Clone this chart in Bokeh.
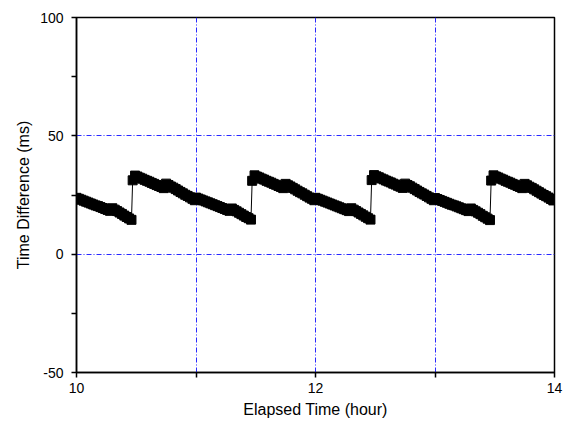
from bokeh.plotting import figure
from bokeh.models import Range1d, FixedTicker
from bokeh.embed import file_html
from bokeh.resources import INLINE

x_hours = [
    10.00, 10.02, 10.04, 10.06, 10.08, 10.10, 10.12, 10.14, 10.16, 10.18, 10.20, 10.22, 10.24, 10.26, 10.28,
    10.30, 10.32, 10.34, 10.36, 10.38, 10.40, 10.42, 10.44, 10.46,
    10.47,
    10.49, 10.51, 10.53, 10.55, 10.57, 10.59, 10.61, 10.63, 10.65, 10.67, 10.69, 10.71, 10.73,
    10.75, 10.77, 10.79, 10.81, 10.83, 10.85, 10.87, 10.89, 10.91, 10.93, 10.95, 10.97, 10.99,
    11.00, 11.02, 11.04, 11.06, 11.08, 11.10, 11.12, 11.14, 11.16, 11.18, 11.20, 11.22, 11.24, 11.26, 11.28,
    11.30, 11.32, 11.34, 11.36, 11.38, 11.40, 11.42, 11.44, 11.46,
    11.47,
    11.49, 11.51, 11.53, 11.55, 11.57, 11.59, 11.61, 11.63, 11.65, 11.67, 11.69, 11.71, 11.73,
    11.75, 11.77, 11.79, 11.81, 11.83, 11.85, 11.87, 11.89, 11.91, 11.93, 11.95, 11.97, 11.99,
    12.00, 12.02, 12.04, 12.06, 12.08, 12.10, 12.12, 12.14, 12.16, 12.18, 12.20, 12.22, 12.24, 12.26, 12.28,
    12.30, 12.32, 12.34, 12.36, 12.38, 12.40, 12.42, 12.44, 12.46,
    12.47,
    12.49, 12.51, 12.53, 12.55, 12.57, 12.59, 12.61, 12.63, 12.65, 12.67, 12.69, 12.71, 12.73,
    12.75, 12.77, 12.79, 12.81, 12.83, 12.85, 12.87, 12.89, 12.91, 12.93, 12.95, 12.97, 12.99,
    13.00, 13.02, 13.04, 13.06, 13.08, 13.10, 13.12, 13.14, 13.16, 13.18, 13.20, 13.22, 13.24, 13.26, 13.28,
    13.30, 13.32, 13.34, 13.36, 13.38, 13.40, 13.42, 13.44, 13.46,
    13.47,
    13.49, 13.51, 13.53, 13.55, 13.57, 13.59, 13.61, 13.63, 13.65, 13.67, 13.69, 13.71, 13.73,
    13.75, 13.77, 13.79, 13.81, 13.83, 13.85, 13.87, 13.89, 13.91, 13.93, 13.95, 13.97, 13.99,
]
time_diff_ms = [
    23.8, 23.4, 23.0, 22.6, 22.2, 21.8, 21.4, 21.0, 20.6, 20.3, 19.9, 19.5, 19.1, 18.7, 18.3,
    19.4, 18.8, 18.2, 17.6, 17.0, 16.3, 15.7, 15.1, 14.5,
    31.2,
    33.2, 32.8, 32.3, 31.9, 31.4, 31.0, 30.6, 30.1, 29.7, 29.2, 28.8, 28.4, 27.9,
    29.8, 29.2, 28.6, 28.1, 27.5, 26.9, 26.3, 25.7, 25.1, 24.6, 24.0, 23.4, 22.8,
    23.9, 23.5, 23.1, 22.7, 22.3, 21.9, 21.5, 21.1, 20.7, 20.3, 19.9, 19.5, 19.1, 18.7, 18.3,
    19.3, 18.7, 18.1, 17.5, 16.9, 16.3, 15.7, 15.2, 14.6,
    31.0,
    33.3, 32.8, 32.4, 31.9, 31.5, 31.0, 30.6, 30.2, 29.7, 29.3, 28.8, 28.4, 27.9,
    29.7, 29.1, 28.6, 28.0, 27.4, 26.8, 26.2, 25.7, 25.1, 24.5, 23.9, 23.4, 22.8,
    23.8, 23.4, 23.0, 22.6, 22.2, 21.8, 21.4, 21.0, 20.6, 20.2, 19.8, 19.4, 19.0, 18.6, 18.2,
    19.4, 18.8, 18.2, 17.6, 17.0, 16.4, 15.8, 15.2, 14.6,
    31.3,
    33.4, 32.9, 32.5, 32.0, 31.6, 31.1, 30.7, 30.3, 29.8, 29.4, 28.9, 28.5, 28.0,
    29.8, 29.2, 28.7, 28.1, 27.5, 26.9, 26.3, 25.7, 25.2, 24.6, 24.0, 23.4, 22.8,
    23.7, 23.3, 22.9, 22.5, 22.1, 21.7, 21.3, 20.9, 20.6, 20.2, 19.8, 19.4, 19.0, 18.6, 18.2,
    19.3, 18.7, 18.1, 17.5, 16.9, 16.2, 15.6, 15.0, 14.4,
    31.1,
    33.3, 32.8, 32.4, 31.9, 31.5, 31.0, 30.6, 30.2, 29.7, 29.3, 28.8, 28.4, 27.9,
    29.7, 29.1, 28.5, 28.0, 27.4, 26.8, 26.2, 25.6, 25.0, 24.5, 23.9, 23.3, 22.7,
]

x_major_ticks = [10, 12, 14]
x_minor_ticks = [11, 13]
y_major_ticks = [-50, 0, 50, 100]
y_minor_ticks = [-25, 25, 75]
x_grid_at = [11, 12, 13]
y_grid_at = [0, 50]

FONT = "Liberation Sans"

p = figure(width=568, height=425, output_backend="svg", toolbar_location=None,
           x_range=Range1d(10, 14), y_range=Range1d(-50, 100),
           min_border_left=76, min_border_right=14, min_border_top=17, min_border_bottom=53)

p.outline_line_color = "black"
p.outline_line_width = 1.5
p.background_fill_color = "white"
p.border_fill_color = "white"

p.xgrid.ticker = FixedTicker(ticks=x_grid_at)
p.ygrid.ticker = FixedTicker(ticks=y_grid_at)
for g in (p.xgrid, p.ygrid):
    g.grid_line_color = "#2a2aff"
    g.grid_line_width = 1
    g.grid_line_dash = "5 2 1 2"

p.xaxis.ticker = FixedTicker(ticks=x_major_ticks, minor_ticks=x_minor_ticks)
p.yaxis.ticker = FixedTicker(ticks=y_major_ticks, minor_ticks=y_minor_ticks)
p.yaxis.major_label_overrides = {-50: "-50"}

p.xaxis.axis_label = "Elapsed Time (hour)"
p.yaxis.axis_label = "Time Difference (ms)"
for ax in (p.xaxis, p.yaxis):
    ax.axis_line_color = "black"
    ax.axis_line_width = 1.5
    ax.major_tick_line_color = "black"
    ax.minor_tick_line_color = "black"
    ax.major_tick_line_width = 1.5
    ax.minor_tick_line_width = 1.5
    ax.major_tick_out = 5
    ax.major_tick_in = 0
    ax.minor_tick_out = 5
    ax.minor_tick_in = 0
    ax.major_label_text_font = FONT
    ax.major_label_text_font_size = "14px"
    ax.major_label_text_color = "black"
    ax.axis_label_text_font = FONT
    ax.axis_label_text_font_size = "16px"
    ax.axis_label_text_font_style = "normal"
    ax.axis_label_text_color = "black"

p.xaxis.major_label_standoff = 5
p.xaxis.axis_label_standoff = 5
p.yaxis.major_label_standoff = 8
p.yaxis.axis_label_standoff = 5

p.line(x_hours, time_diff_ms, line_color="black", line_width=1)
p.scatter(x_hours, time_diff_ms, marker="square", size=9,
          fill_color="black", line_color="black")

open("out.html", "w").write(file_html(p, INLINE))
